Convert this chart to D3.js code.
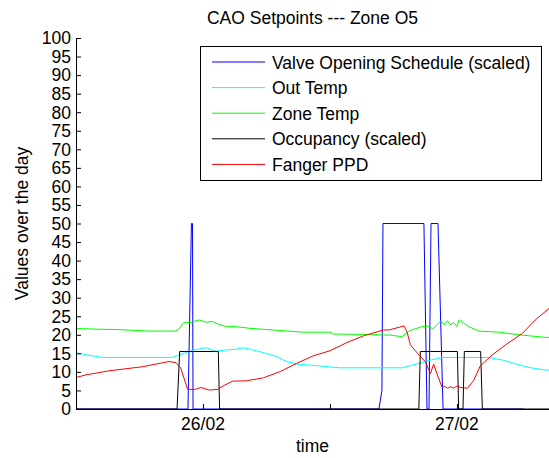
<!DOCTYPE html>
<html>
<head>
<meta charset="utf-8">
<script src="https://cdn.jsdelivr.net/npm/d3@7/dist/d3.min.js"></script>
<style>
    body { margin: 0; background: #fff; }
    svg { display: block; font-family: "Liberation Sans", Arial, Helvetica, sans-serif; }
    text { fill: #000; }
</style>
</head>
<body>
<svg id="chart" width="549" height="458"></svg>
<script>
/*jslint browser: true*/
/*global d3*/

// all times are hours counted from 25/02 12:00
var startDate = new Date(2014, 1, 25, 12, 0),
    endHours = 44.7,

    yTicks = d3.range(0, 101, 5),
    dayLabels = ['26/02', '27/02'],

    valve = [
        [0, 0], [10.58, 0], [10.91, 50], [11.01, 50], [11.06, 0], [28.63, 0],
        [28.91, 5], [29.01, 50], [32.88, 50], [33.17, 0], [33.36, 0], [33.55, 50],
        [34.21, 50], [34.69, 0], [42.3, 0]
    ],

    outTemp = [
        [0, 15.2], [0.95, 14.6], [2.5, 13.9], [9.1, 13.9], [9.8, 14.6], [10.7, 15.5],
        [11.5, 16.1], [12.3, 16.5], [13.2, 15.6], [14.2, 15.9], [15.1, 16.1], [15.8, 16.5],
        [16.6, 16.0], [17.7, 15.2], [19.0, 14.1], [19.9, 12.8], [20.85, 12.1], [22.7, 11.7],
        [24.9, 11.1], [30.8, 11.1], [32.4, 12.3], [33.5, 13.2], [34.6, 13.9], [39.0, 13.9],
        [40.3, 13.2], [41.5, 12.2], [42.8, 11.2], [44.4, 10.5], [44.7, 10.5]
    ],

    zoneTemp = [
        [0, 21.7], [2.2, 21.5], [4, 21.4], [6.9, 21.0], [9.45, 21.0], [9.76, 21.6],
        [10.1, 23.1], [10.4, 23.4], [10.7, 23.2], [11.0, 23.5], [11.65, 24.0], [12.3, 23.4],
        [12.9, 23.6], [13.5, 22.8], [14.2, 22.2], [15.1, 22.2], [16.4, 21.75], [18.6, 21.3],
        [21.5, 20.7], [24.0, 20.7], [24.3, 20.2], [27.2, 20.1], [29.7, 19.9], [30.8, 19.5],
        [31.5, 21.1], [32.7, 22.2], [33.4, 22.4], [33.7, 21.5], [34.5, 23.8], [34.8, 22.7],
        [35.1, 23.8], [35.4, 22.7], [35.7, 23.3], [36.0, 22.2], [36.2, 24.0], [37.1, 22.2],
        [38.1, 21.0], [40.0, 20.7], [42.2, 19.9], [44.4, 19.3], [44.7, 19.3]
    ],

    occupancy = [
        [0, 0], [9.55, 0], [9.8, 15.5], [13.45, 15.5], [13.57, 0], [32.4, 0],
        [32.54, 15.5], [36.04, 15.5], [36.16, 0], [36.57, 0], [36.7, 15.5], [38.24, 15.5],
        [38.4, 0], [44.7, 0]
    ],

    ppd = [
        [0, 8.5], [0.95, 9.2], [3.15, 10.3], [6.3, 11.4], [8.8, 12.8], [9.45, 12.5],
        [9.9, 11.0], [10.55, 5.3], [11.3, 5.3], [11.8, 5.8], [12.6, 5.1], [13.4, 5.3],
        [13.9, 6.2], [14.8, 7.5], [16.1, 7.6], [17.7, 8.4], [19.3, 10.1], [20.85, 12.3],
        [22.4, 14.3], [24.0, 15.7], [25.6, 17.9], [27.15, 19.7], [29.05, 21.3], [29.58, 21.3],
        [31.0, 22.4], [31.3, 20.6], [31.6, 17.3], [32.4, 14.6], [33.0, 12.8], [33.5, 9.6],
        [33.8, 12.1], [34.15, 9.2], [34.6, 5.8], [34.85, 6.1], [35.1, 5.6], [35.4, 6.0],
        [35.7, 5.6], [36.0, 6.2], [36.35, 5.8], [37.0, 5.6], [37.6, 7.8], [38.2, 11.6],
        [39.35, 14.6], [40.6, 17.3], [42.2, 20.4], [43.4, 24.0], [44.7, 27.1]
    ],

    seriesNames = ['Valve Opening Schedule (scaled)', 'Out Temp', 'Zone Temp',
                   'Occupancy (scaled)', 'Fanger PPD'],
    seriesData = [valve, outTemp, zoneTemp, occupancy, ppd],
    seriesColors = ['#0000ff', '#00ffff', '#00ff00', '#000000', '#ff0000'];

(function () {
    "use strict";

    var svg = d3.select('#chart'),
        left = 76,
        right = 549,
        top = 38,
        bottom = 409,
        fontSize = 17.5,

        toDate = function (h) {
            return new Date(startDate.getTime() + h * 3600 * 1000);
        },

        x = d3.scaleTime()
            .domain([startDate, toDate(endHours)])
            .range([left, right]),

        y = d3.scaleLinear()
            .domain([0, 100])
            .range([bottom, top]),

        line = d3.line()
            .x(function (d) { return x(toDate(d[0])); })
            .y(function (d) { return y(d[1]); }),

        // ticks every 12 hours, only midnight ones get a label
        xTicks = d3.timeHour.every(12).range(startDate, toDate(endHours)),
        dayFormat = d3.timeFormat('%d/%m'),

        legend,
        rows;

    svg.append('rect')
        .attr('width', 549)
        .attr('height', 458)
        .attr('fill', '#fff');

    svg.append('g')
        .selectAll('path')
        .data(seriesData)
        .enter()
        .append('path')
        .attr('d', line)
        .attr('fill', 'none')
        .attr('stroke', function (d, i) { return seriesColors[i]; })
        .attr('stroke-width', 1);

    // y axis, ticks pointing inward like matlab
    svg.append('g')
        .attr('transform', 'translate(' + left + ',0)')
        .call(d3.axisRight(y).tickValues(yTicks).tickSize(5).tickFormat(''))
        .call(function (g) {
            g.select('.domain').attr('d', 'M0.5,' + top + 'V' + (bottom + 0.5));
            g.selectAll('.tick line').attr('stroke', '#000');
        });

    svg.append('g')
        .selectAll('text')
        .data(yTicks)
        .enter()
        .append('text')
        .attr('x', left - 5)
        .attr('y', function (d) { return y(d); })
        .attr('dy', '0.36em')
        .attr('text-anchor', 'end')
        .attr('font-size', fontSize)
        .text(function (d) { return d; });

    svg.append('g')
        .attr('transform', 'translate(0,' + bottom + ')')
        .call(d3.axisTop(x).tickValues(xTicks).tickSize(5).tickFormat(''))
        .call(function (g) {
            g.select('.domain').attr('d', 'M' + left + ',0.5H' + right);
            g.selectAll('.tick line').attr('stroke', '#000');
        });

    svg.append('g')
        .selectAll('text')
        .data(xTicks.filter(function (t) { return t.getHours() === 0; }))
        .enter()
        .append('text')
        .attr('x', function (d) { return x(d); })
        .attr('y', bottom + 21)
        .attr('text-anchor', 'middle')
        .attr('font-size', fontSize)
        .text(function (d, i) { return dayLabels[i] || dayFormat(d); });

    svg.append('text')
        .attr('x', (left + right) / 2)
        .attr('y', 24)
        .attr('text-anchor', 'middle')
        .attr('font-size', fontSize)
        .text('CAO Setpoints --- Zone O5');

    svg.append('text')
        .attr('x', (left + right) / 2)
        .attr('y', 452)
        .attr('text-anchor', 'middle')
        .attr('font-size', fontSize)
        .text('time');

    svg.append('text')
        .attr('transform', 'translate(28,' + ((top + bottom) / 2) + ')rotate(-90)')
        .attr('text-anchor', 'middle')
        .attr('font-size', fontSize)
        .text('Values over the day');

    legend = svg.append('g');

    legend.append('rect')
        .attr('x', 200.5)
        .attr('y', 46.5)
        .attr('width', 341)
        .attr('height', 134)
        .attr('fill', '#fff')
        .attr('stroke', '#000');

    rows = legend.selectAll('g.row')
        .data(seriesNames)
        .enter()
        .append('g')
        .attr('class', 'row')
        .attr('transform', function (d, i) {
            return 'translate(0,' + (62 + i * 25.6) + ')';
        });

    rows.append('line')
        .attr('x1', 212)
        .attr('x2', 265)
        .attr('stroke', function (d, i) { return seriesColors[i]; });

    rows.append('text')
        .attr('x', 272)
        .attr('y', 6.5)
        .attr('font-size', fontSize)
        .text(function (d) { return d; });
}());
</script>
</body>
</html>
